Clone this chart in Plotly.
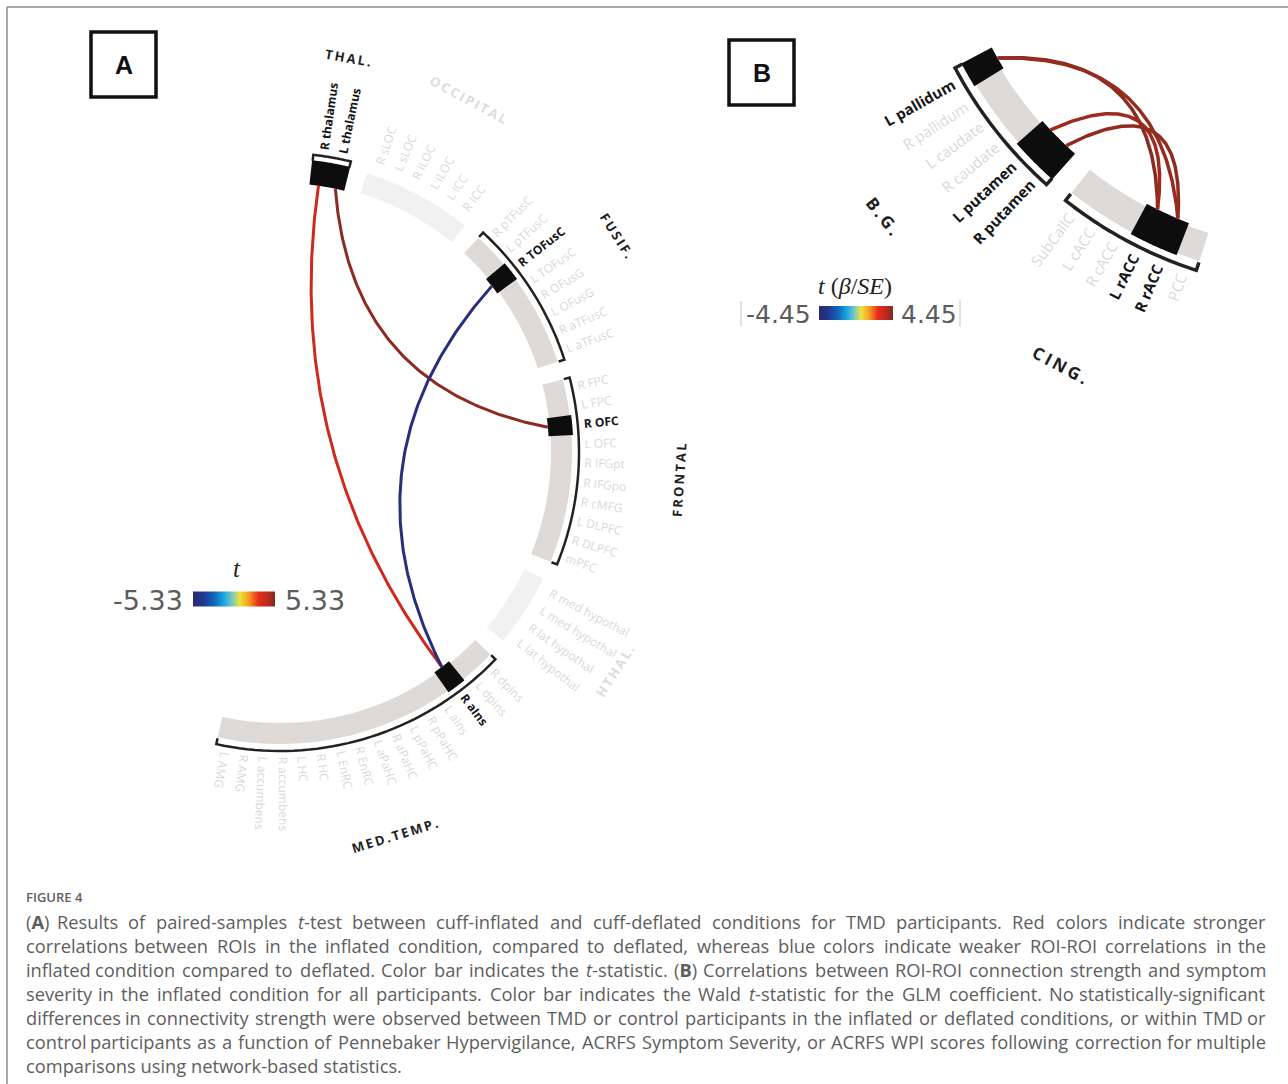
import re
import numpy as np
import plotly.graph_objects as go
from plotly.colors import sample_colorscale

W, H = 1288, 1084

# ---------------- Panel A: ROI ring, groups listed clockwise from the top ----------------
A_GROUPS = ["THAL.", "OCCIPITAL", "FUSIF.", "FRONTAL", "HTHAL.", "MED.TEMP."]
A_THAL = ["R thalamus", "L thalamus"]
A_OCCIPITAL = ["R sLOC", "L sLOC", "R iLOC", "L iLOC", "L ICC", "R ICC"]
A_FUSIF = ["R pTFusC", "L pTFusC", "R TOFusC", "L TOFusC", "R OFusG", "L OFusG",
           "R aTFusC", "L aTFusC"]
A_FRONTAL = ["R FPC", "L FPC", "R OFC", "L OFC", "R IFGpt", "R IFGpo", "R cMFG",
             "L DLPFC", "R DLPFC", "mPFC"]
A_HTHAL = ["R med hypothal", "L med hypothal", "R lat hypothal", "L lat hypothal"]
A_MEDTEMP = ["R dpIns", "L dpIns", "R aIns", "L aIns", "R pPaHC", "L pPaHC", "R aPaHC",
             "L aPaHC", "R EnRC", "L EnRC", "R HC", "L HC", "R accumbens", "L accumbens",
             "R AMG", "L AMG"]

# significant ROI-ROI connections (paired t-test, inflated vs deflated)
A_SRC = ["R thalamus", "L thalamus", "R TOFusC"]
A_DST = ["R aIns", "R OFC", "R aIns"]
A_T = [3.9, 5.1, -4.7]
A_TLIM = 5.33

# ---------------- Panel B: ROI ring, groups listed counter-clockwise ----------------
B_GROUPS = ["B.G.", "CING."]
B_BG = ["L pallidum", "R pallidum", "L caudate", "R caudate", "L putamen", "R putamen"]
B_CING = ["SubCallC", "L cACC", "R cACC", "L rACC", "R rACC", "PCC"]

# connections correlated with symptom severity (Wald t)
B_SRC = ["L pallidum", "L pallidum", "L putamen", "R putamen"]
B_DST = ["L rACC", "R rACC", "L rACC", "R rACC"]
B_T = [4.3, 4.1, 4.0, 4.2]
B_TLIM = 4.45

# colour map used for the t statistic
T_SCALE = [[0.0, "#2b2a6b"], [0.12, "#22358f"], [0.25, "#1162b8"], [0.38, "#1ba8de"],
           [0.48, "#7dc9bf"], [0.57, "#ede33a"], [0.67, "#f5a523"], [0.8, "#e52a1c"],
           [0.9, "#c0291d"], [1.0, "#7e2c20"]]

CAPTION = [
    "(<b>A</b>) Results of paired-samples <i>t</i>-test between cuff-inflated and cuff-deflated conditions for TMD participants. Red colors indicate stronger",
    "correlations between ROIs in the inflated condition, compared to deflated, whereas blue colors indicate weaker ROI-ROI correlations in the",
    "inflated condition compared to deflated. Color bar indicates the <i>t</i>-statistic. (<b>B</b>) Correlations between ROI-ROI connection strength and symptom",
    "severity in the inflated condition for all participants. Color bar indicates the Wald <i>t</i>-statistic for the GLM coefficient. No statistically-significant",
    "differences in connectivity strength were observed between TMD or control participants in the inflated or deflated conditions, or within TMD or",
    "control participants as a function of Pennebaker Hypervigilance, ACRFS Symptom Severity, or ACRFS WPI scores following correction for multiple",
    "comparisons using network-based statistics.",
]

# ring geometry (base radii, scaled per panel)
R_IN, R_OUT, R_BR, R_LAB, R_GRP, HOOK = 271, 292, 299, 305, 400, 6

RING_A = dict(cx=280, cy=452, s=1.0, start=83.6, step=3.65, gap=3.6, sense=-1,
              lab=12, grp=13, lw=3.0, flip=False, tlim=A_TLIM)
RING_B = dict(cx=1325, cy=-128, s=1.4, start=-152.1, step=3.4, gap=3.4, sense=1,
              lab=15, grp=17, lw=3.5, flip=True, tlim=B_TLIM)

INK = "#151515"
FAINT = "#d9d9d9"
BAND_ON = "#dedad8"
BAND_OFF = "#f1f1f1"

fig = go.Figure()
shapes, annos = [], []


def polar(cx, cy, r, deg):
    a = np.radians(deg)
    return cx + r * np.cos(a), cy - r * np.sin(a)


def path_of(xs, ys, close=False):
    p = "M " + " L ".join(f"{x:.2f},{y:.2f}" for x, y in zip(xs, ys))
    return p + (" Z" if close else "")


def sector(g, r0, r1, a0, a1, color):
    angs = np.linspace(a0, a1, 30)
    xo, yo = polar(g["cx"], g["cy"], r1, angs)
    xi, yi = polar(g["cx"], g["cy"], r0, angs[::-1])
    shapes.append(dict(type="path", path=path_of(np.r_[xo, xi], np.r_[yo, yi], True),
                       xref="x", yref="y", fillcolor=color, line=dict(width=0), layer="below"))


def ghost(txt):
    return f"<span style='color:rgba(0,0,0,0)'>{txt}</span>"


def draw_ring(g, groups, names, src, dst, tvals):
    s = g["s"]
    active = set(src) | set(dst)
    ang, spans = {}, []
    a = g["start"]
    for rois in groups:
        a0 = a
        for roi in rois:
            ang[roi] = a + g["sense"] * g["step"] / 2
            a += g["sense"] * g["step"]
        spans.append((a0, a))
        a += g["sense"] * g["gap"]

    for rois, (a0, a1), name in zip(groups, spans, names):
        on = any(r in active for r in rois)
        sector(g, R_IN * s, R_OUT * s, a0, a1, BAND_ON if on else BAND_OFF)
        if on:
            # bracket with inward hooks
            angs = np.linspace(a0, a1, 40)
            xs, ys = polar(g["cx"], g["cy"], R_BR * s, angs)
            hx0, hy0 = polar(g["cx"], g["cy"], (R_BR - HOOK) * s, a0)
            hx1, hy1 = polar(g["cx"], g["cy"], (R_BR - HOOK) * s, a1)
            shapes.append(dict(type="path", xref="x", yref="y",
                               path=path_of(np.r_[hx0, xs, hx1], np.r_[hy0, ys, hy1]),
                               line=dict(color="#222", width=2.5 * s)))
        # group title, tangential
        mid = (a0 + a1) / 2
        gx, gy = polar(g["cx"], g["cy"], R_GRP * s, mid)
        rot = 90 - mid if mid > 0 else -90 - mid
        annos.append(dict(x=gx, y=gy, xref="x", yref="y", showarrow=False,
                          text=f"<span style='letter-spacing:{2.2 * s:.1f}px'>{name}</span>",
                          textangle=rot, xanchor="center", yanchor="middle",
                          font=dict(family="Open Sans", size=g["grp"], weight=700,
                                    color="#1e1e1e" if on else "#dcdcdc")))

    # ROI labels, radial
    for rois in groups:
        for roi in rois:
            th = ang[roi]
            lx, ly = polar(g["cx"], g["cy"], R_LAB * s, th)
            on = roi in active
            t = f"<b>{roi}</b>" if on else roi
            if g["flip"]:
                rot = float(np.degrees(np.arctan2(np.sin(np.radians(th)), -np.cos(np.radians(th)))))
                txt = t + ghost(t)
            else:
                rot = -th
                txt = ghost(t) + t
            annos.append(dict(x=lx, y=ly, xref="x", yref="y", showarrow=False, text=txt,
                              textangle=rot, xanchor="center", yanchor="middle",
                              font=dict(family="Open Sans", size=g["lab"],
                                        color=INK if on else FAINT)))

    # highlighted ROIs
    for roi in active:
        th = ang[roi]
        half = g["step"] / 2 + 0.12
        sector(g, (R_IN - 2) * s, (R_OUT + 1.5) * s, th - half, th + half, "#0d0d0d")

    # connections: quadratic curves whose control point sits between the chord
    # midpoint and the ring centre; nearby ROI pairs bow less
    ctr = np.array([g["cx"], g["cy"]], float)
    cols = sample_colorscale(T_SCALE, [(t + g["tlim"]) / (2 * g["tlim"]) for t in tvals])
    for a_roi, b_roi, col in zip(src, dst, cols):
        p0 = np.array(polar(g["cx"], g["cy"], (R_IN - 2) * s, ang[a_roi]))
        p2 = np.array(polar(g["cx"], g["cy"], (R_IN - 2) * s, ang[b_roi]))
        d = abs(ang[a_roi] - ang[b_roi])
        k = max(0.32, 1.0 - 0.95 * max(0.0, 1.0 - d / 135.0))
        m = (p0 + p2) / 2
        c = m + k * (ctr - m)
        tt = np.linspace(0, 1, 120)[:, None]
        pts = (1 - tt) ** 2 * p0 + 2 * (1 - tt) * tt * c + tt ** 2 * p2
        fig.add_trace(go.Scatter(x=pts[:, 0], y=pts[:, 1], mode="lines", hoverinfo="skip",
                                 line=dict(color=col, width=g["lw"]), showlegend=False))


draw_ring(RING_A, [A_THAL, A_OCCIPITAL, A_FUSIF, A_FRONTAL, A_HTHAL, A_MEDTEMP],
          A_GROUPS, A_SRC, A_DST, A_T)
draw_ring(RING_B, [B_BG, B_CING], B_GROUPS, B_SRC, B_DST, B_T)

# colour bars
fig.add_trace(go.Scatter(x=[None] * len(A_T), y=[None] * len(A_T), mode="markers",
                         marker=dict(color=A_T, coloraxis="coloraxis"), showlegend=False))
fig.add_trace(go.Scatter(x=[None] * len(B_T), y=[None] * len(B_T), mode="markers",
                         marker=dict(color=B_T, coloraxis="coloraxis2"), showlegend=False))


def cbar(xc, yc, length, thick):
    return dict(orientation="h", x=xc / W, y=1 - yc / H, xanchor="center", yanchor="middle",
                len=length, lenmode="pixels", thickness=thick, thicknessmode="pixels",
                showticklabels=False, ticks="", outlinewidth=0, xpad=0, ypad=0)


num_font = dict(family="DejaVu Sans", size=27, color="#5c5c5c")
annos += [
    dict(x=185, y=600, text=f"-{A_TLIM:.2f}", xanchor="right", font=num_font),
    dict(x=283, y=600, text=f"{A_TLIM:.2f}", xanchor="left", font=num_font),
    dict(x=237, y=568, text="<i>t</i>", xanchor="center",
         font=dict(family="Liberation Serif", size=25, color="#222")),
    dict(x=813, y=314, text=f"-{B_TLIM:.2f}", xanchor="right", font={**num_font, "size": 25}),
    dict(x=899, y=314, text=f"{B_TLIM:.2f}", xanchor="left", font={**num_font, "size": 25}),
    dict(x=855, y=286, text="<i>t</i> (<i>β</i>/<i>SE</i>)", xanchor="center",
         font=dict(family="Liberation Serif", size=24, color="#222")),
]

# panel letters
for lab, x0, y0 in [("A", 91, 32), ("B", 729, 40)]:
    shapes.append(dict(type="rect", xref="x", yref="y", x0=x0, y0=y0, x1=x0 + 65, y1=y0 + 65,
                       line=dict(color="#111", width=3.5)))
    annos.append(dict(x=x0 + 32.5, y=y0 + 33, text=f"<b>{lab}</b>", xanchor="center",
                      font=dict(family="Liberation Sans", size=25, color="#111")))

# figure frame
shapes += [
    dict(type="line", xref="x", yref="y", x0=7, y0=7, x1=W, y1=7, line=dict(color="#8c8c8c", width=1.5)),
    dict(type="line", xref="x", yref="y", x0=7, y0=7, x1=7, y1=H, line=dict(color="#8c8c8c", width=1.5)),
    dict(type="line", xref="x", yref="y", x0=741, y0=301, x1=741, y1=326, line=dict(color="#e2e2e2", width=2)),
    dict(type="line", xref="x", yref="y", x0=960, y0=300, x1=960, y1=327, line=dict(color="#e2e2e2", width=2)),
]

# caption: words spread to a justified block
OS_W = dict(zip(" abcdefghijklmnopqrstuvwxyz",
                [532, 1139, 1255, 975, 1255, 1149, 694, 1122, 1257, 518, 518, 1075, 518, 1905,
                 1257, 1237, 1255, 1255, 836, 977, 723, 1257, 1026, 1593, 1073, 1028, 977]))
OS_W.update(dict(zip("ABCDEFGHIJKLMNOPQRSTUVWXYZ",
                     [1296, 1327, 1292, 1493, 1139, 1057, 1491, 1511, 571, 547, 1257, 1063, 1849,
                      1544, 1595, 1233, 1595, 1266, 1124, 1133, 1491, 1219, 1896, 1182, 1147, 1169])))
OS_W.update({"(": 586, ")": 586, ",": 502, ".": 545, "-": 659, "0": 1147, "4": 1147})

CAP_SIZE = 18.3
CAP_X0, CAP_X1 = 24, 1268
cap_font = dict(family="Open Sans", size=CAP_SIZE, color="#5e5e5e")


def width(s):
    plain = re.sub(r"<[^>]+>", "", s)
    return sum(OS_W.get(ch, 1150) for ch in plain) / 2048 * CAP_SIZE


annos.append(dict(x=CAP_X0, y=897, text="FIGURE 4", xanchor="left",
                  font=dict(family="Open Sans", size=13, color="#5f5f5f", weight=600)))
for i, line in enumerate(CAPTION):
    y = 921 + 24 * i
    if i == len(CAPTION) - 1:
        annos.append(dict(x=CAP_X0, y=y, text=line, xanchor="left", font=cap_font))
        continue
    words = line.split(" ")
    ws = [width(w) for w in words]
    gap = (CAP_X1 - CAP_X0 - sum(ws)) / (len(words) - 1)
    x = CAP_X0
    for j, (wd, w) in enumerate(zip(words, ws)):
        if j == 0:
            annos.append(dict(x=CAP_X0, y=y, text=wd, xanchor="left", font=cap_font))
        elif j == len(words) - 1:
            annos.append(dict(x=CAP_X1, y=y, text=wd, xanchor="right", font=cap_font))
        else:
            annos.append(dict(x=x + w / 2, y=y, text=wd, xanchor="center", font=cap_font))
        x += w + gap

for a in annos:
    a.setdefault("xref", "x")
    a.setdefault("yref", "y")
    a.setdefault("showarrow", False)
    a.setdefault("yanchor", "middle")

fig.update_layout(
    width=W, height=H, margin=dict(l=0, r=0, t=0, b=0),
    paper_bgcolor="white", plot_bgcolor="white",
    xaxis=dict(range=[0, W], visible=False, fixedrange=True),
    yaxis=dict(range=[H, 0], visible=False, fixedrange=True),
    shapes=shapes, annotations=annos, showlegend=False,
    coloraxis=dict(colorscale=T_SCALE, cmin=-A_TLIM, cmax=A_TLIM, colorbar=cbar(234, 599, 82, 15)),
    coloraxis2=dict(colorscale=T_SCALE, cmin=-B_TLIM, cmax=B_TLIM, colorbar=cbar(856, 313, 74, 14)),
)

fig.write_html("out.html")
